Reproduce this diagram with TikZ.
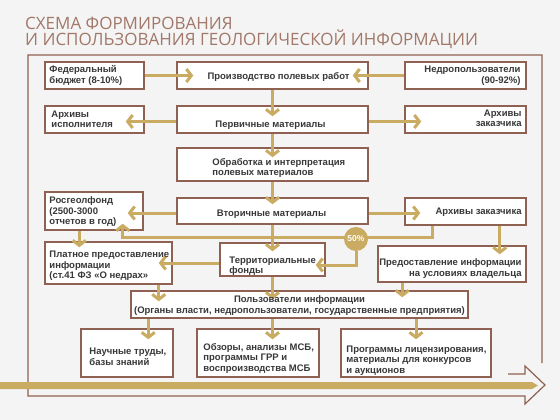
\documentclass[tikz,border=0pt]{standalone}
\usepackage{fontspec}
\setmainfont{Liberation Sans}
\newfontfamily\titlefont{Open Sans}
\usetikzlibrary{arrows.meta,calc}
\definecolor{geo_brown}{rgb}{0.56,0.38,0.32}
\definecolor{geo_gold}{rgb}{0.79,0.67,0.38}
\definecolor{geo_title}{rgb}{0.63,0.47,0.41}
\definecolor{geo_text}{rgb}{0.22,0.22,0.22}
\definecolor{geo_bg}{rgb}{0.955,0.955,0.955}

\tikzset{
  box/.style={draw=geo_brown, fill=white, line width=1.5pt, inner sep=0pt},
  txt/.style={text=geo_text, font=\fontsize{9.5}{10.5}\selectfont\bfseries, inner sep=0pt},
  flow/.style={geo_gold, line width=3pt, -{Straight Barb[length=5pt,width=13pt]}},
  pct/.style={circle, fill=geo_gold, text=white, minimum size=24pt, inner sep=0pt,
    font=\fontsize{8.5}{9}\selectfont\bfseries},
}

\begin{document}
\begin{tikzpicture}[x=1pt, y=-1pt]
    % Page: 560 x 420, y grows downwards
    \fill[geo_bg] (0,0) rectangle (560,420);
    \useasboundingbox (0,0) rectangle (560,420);

    % Title
    \node[anchor=base west, text=geo_title, font=\titlefont\fontsize{17}{17}\selectfont, inner sep=0pt]
      (title1) at (25,30) {СХЕМА ФОРМИРОВАНИЯ};
    \node[anchor=base west, text=geo_title, font=\titlefont\fontsize{17}{17}\selectfont, inner sep=0pt]
      (title2) at (25,46) {И ИСПОЛЬЗОВАНИЯ ГЕОЛОГИЧЕСКОЙ ИНФОРМАЦИИ};

    % Outer frame, ending in the hollow arrow at the bottom
    \draw[geo_brown, line width=1.2pt, line join=miter]
      (508,374) -- (525,374) -- (525,366) -- (545,385) -- (525,404) -- (525,396)
      -- (28,396) -- (28,55) -- (542,55) -- (542,363);
    % Gold bar inside the arrow
    \fill[geo_gold] (0,382) -- (532,382) -- (538,385.5) -- (532,389) -- (0,389) -- cycle;

    % Boxes, row by row
    \node[box, minimum width=99pt, minimum height=27pt] (fed) at (94.5,75.5) {};
    \node[box, minimum width=191pt, minimum height=27pt] (prod) at (272.5,75.5) {};
    \node[box, minimum width=121pt, minimum height=27pt] (nedro) at (465.5,75.5) {};

    \node[box, minimum width=99pt, minimum height=27pt] (arhisp) at (94.5,119.5) {};
    \node[box, minimum width=191pt, minimum height=27pt] (perv) at (272.5,119.5) {};
    \node[box, minimum width=121pt, minimum height=27pt] (arhzak1) at (465.5,119.5) {};

    \node[box, minimum width=191pt, minimum height=33pt] (obr) at (272.5,164.5) {};

    \node[box, minimum width=98pt, minimum height=38pt] (rgf) at (94,211) {};
    \node[box, minimum width=191pt, minimum height=26pt] (vtor) at (272.5,211) {};
    \node[box, minimum width=121pt, minimum height=27pt] (arhzak2) at (465.5,211.5) {};

    \node[box, minimum width=127pt, minimum height=42pt] (plat) at (108.5,263) {};
    \node[box, minimum width=105pt, minimum height=33pt] (terr) at (272.5,259.5) {};
    \node[box, minimum width=148pt, minimum height=36pt] (pred) at (452,264) {};

    \node[box, minimum width=337pt, minimum height=27pt] (polz) at (299.5,304.5) {};

    \node[box, minimum width=92pt, minimum height=48pt] (nauch) at (127,353) {};
    \node[box, minimum width=122pt, minimum height=48pt] (obz) at (258,353) {};
    \node[box, minimum width=150pt, minimum height=48pt] (progr) at (416,353) {};

    % Arrows
    \draw[flow] (fed.east) -- ($(prod.west)+(17,0)$);
    \draw[flow] (nedro.west) -- ($(prod.east)+(-16,0)$);
    \draw[flow] (prod.south) -- ($(perv.north)+(0,11)$);
    \draw[flow] ($(perv.west)+(0,2)$) -- ($(arhisp.east)+(-19,2)$);
    \draw[flow] ($(perv.east)+(0,2)$) -- ($(arhzak1.west)+(17,2)$);
    \draw[flow] (perv.south) -- ($(obr.north)+(0,10)$);
    \draw[flow] (obr.south) -- ($(vtor.north)+(0,7)$);
    \draw[flow] ($(vtor.west)+(0,2)$) -- ($(rgf.east)+(-16,2)$);
    \draw[flow] ($(vtor.east)+(0,2)$) -- ($(arhzak2.west)+(16,1.5)$);
    \draw[flow] (vtor.south) -- ($(terr.north)+(0,9)$);

    % customer archives back to Rosgeolfond, 50% to territorial funds
    \coordinate (c50) at (356,237);
    \draw[flow] ($(arhzak2.south west)+(28,0)$) |- ($(rgf.south east |- c50)+(-21,0)$)
      -- ($(rgf.south east)+(-21,-7)$);
    \node[pct] (p50) at (356,239) {50\%};
    \draw[flow] (p50) |- ($(terr.east)+(-10,5.5)$);

    \draw[flow] ($(rgf.south west)+(35,0)$) -- ($(plat.north west)+(35,6)$);
    \draw[flow] (terr.west |- plat.east) -- ($(plat.east)+(-14,0)$);
    \draw[flow] ($(arhzak2.south east)+(-27,0)$) -- ($(pred.north east)+(-27,9)$);

    \draw[flow] ($(plat.south east)+(-14,0)$) -- ($(plat.south east |- polz.north)+(-14,11)$);
    \draw[flow] (terr.south) -- ($(terr.south |- polz.north)+(0,9)$);
    \draw[flow] ($(pred.south west)+(25,0)$) -- ($(pred.south west |- polz.north)+(25,7)$);

    \draw[flow] ($(polz.south west)+(18,0)$) -- ($(polz.south west |- nauch.north)+(18,11)$);
    \draw[flow] (terr.south |- polz.south) -- ($(terr.south |- obz.north)+(0,11)$);
    \draw[flow] (progr.north |- polz.south) -- ($(progr.north)+(0,11)$);

    % Box texts
    \node[txt, anchor=west, align=left] (fed-t) at ($(fed.west)+(5,0)$) {Федеральный\\бюджет (8-10\%)};
    \node[txt] (prod-t) at ($(prod.center)+(6,1.5)$) {Производство полевых работ};
    \node[txt, anchor=east, align=right] (nedro-t) at ($(nedro.east)+(-6,0)$) {Недропользователи\\(90-92\%)};

    \node[txt, anchor=west, align=left] (arhisp-t) at ($(arhisp.west)+(7,0)$) {Архивы\\исполнителя};
    \node[txt] (perv-t) at ($(perv.center)+(-2,5.5)$) {Первичные материалы};
    \node[txt, anchor=east, align=right] (arhzak1-t) at ($(arhzak1.east)+(-5,-1)$) {Архивы\\заказчика};

    \node[txt, anchor=west, align=left] (obr-t) at ($(obr.west)+(36,3.5)$) {Обработка и интерпретация\\полевых материалов};

    \node[txt, anchor=west, align=left] (rgf-t) at ($(rgf.west)+(5,1)$) {Росгеолфонд\\(2500-3000\\отчетов в год)};
    \node[txt] (vtor-t) at ($(vtor.center)+(-1,3)$) {Вторичные материалы};
    \node[txt, anchor=east, align=right] (arhzak2-t) at ($(arhzak2.east)+(-5,0.5)$) {Архивы заказчика};

    \node[txt, anchor=west, align=left] (plat-t) at ($(plat.west)+(5,3)$) {Платное предоставление\\информации\\(ст.41 ФЗ «О недрах»};
    \node[txt, anchor=west, align=left] (terr-t) at ($(terr.west)+(10,6.5)$) {Территориальные\\фонды};
    \node[txt, anchor=east, align=right] (pred-t) at ($(pred.east)+(-5,4.5)$) {Предоставление информации\\на условиях владельца};

    \node[txt, align=center] (polz-t) at ($(polz.center)+(0,1)$) {Пользователи информации\\(Органы власти, недропользователи, государственные предприятия)};

    \node[txt, anchor=west, align=left] (nauch-t) at ($(nauch.west)+(9,4)$) {Научные труды,\\базы знаний};
    \node[txt, anchor=west, align=left] (obz-t) at ($(obz.west)+(7,5)$) {Обзоры, анализы МСБ,\\программы ГРР и\\воспроизводства МСБ};
    \node[txt, anchor=west, align=left] (progr-t) at ($(progr.west)+(6,7.5)$) {Программы лицензирования,\\материалы для конкурсов\\и аукционов};
\end{tikzpicture}
\end{document}
